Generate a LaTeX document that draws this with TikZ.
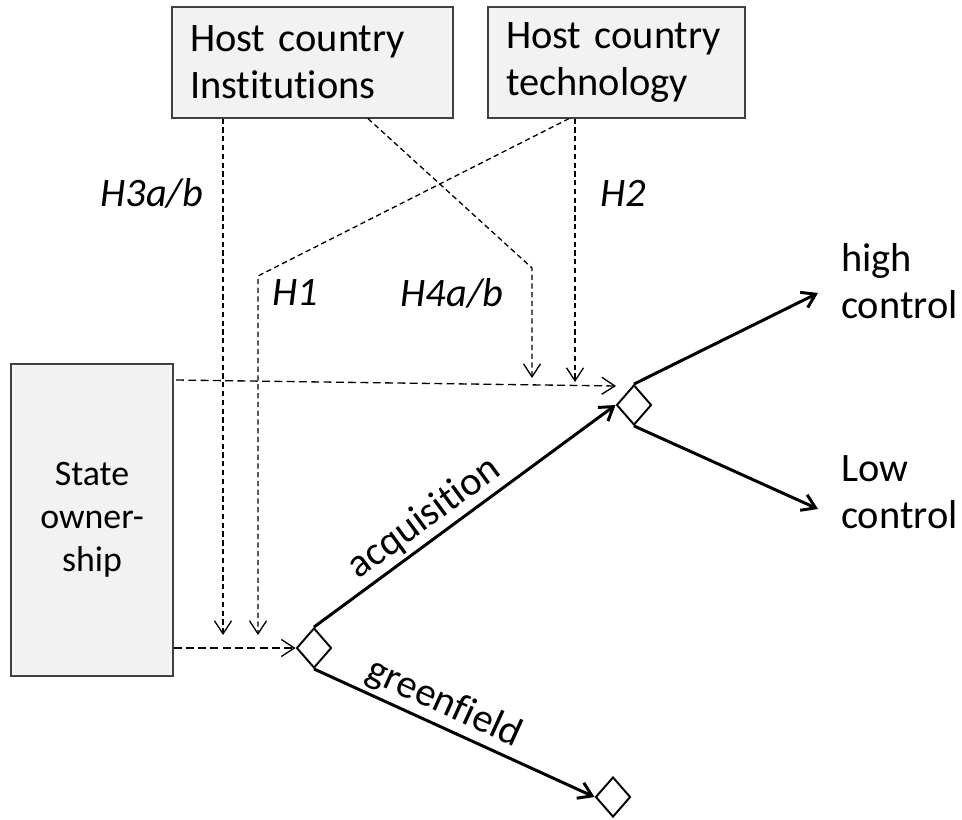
\documentclass[tikz,border=0pt]{standalone}
\usepackage{fontspec}
\setmainfont{Carlito}[Ligatures={NoCommon,NoContextual}]
\usepackage{tikz}
\usetikzlibrary{shapes,arrows.meta,positioning,calc}

\definecolor{boxfill}{HTML}{F2F2F2}
\definecolor{boxline}{HTML}{404040}

\tikzset{
  >={Straight Barb[length=2.6mm,width=3.4mm]},
  factor/.style={rectangle, draw=boxline, fill=boxfill, line width=0.7pt, inner ysep=0pt, inner xsep=0.36cm, minimum height=2.22cm, align=left, font=\fontsize{23}{26.6}\selectfont},
  choice/.style={diamond, draw, line width=1.1pt, minimum width=0.7cm, minimum height=0.8cm, inner sep=0pt},
  effect/.style={->, line width=0.75pt, dash pattern=on 3pt off 2pt},
  direct/.style={->, line width=0.75pt, dash pattern=on 4.5pt off 2.5pt},
  mode/.style={->, line width=1.7pt},
  hyp/.style={font=\fontsize{23}{26.6}\selectfont\itshape},
  outcome/.style={anchor=west, align=left, font=\fontsize{23}{26.6}\selectfont}
}

\begin{document}
\begin{tikzpicture}[x=0.02cm, y=-0.02cm]
\useasboundingbox (0,0) rectangle (962,820);

% Host country factors
\node[factor, text width=4.9cm] (inst) at (312.5,62.5) {Host country\\Institutions};
\node[factor, text width=4.42cm] (tech) at (616.5,62.5) {Host country\\technology};

% State ownership
\node[rectangle, draw=boxline, fill=boxfill, line width=0.7pt, minimum width=3.24cm, minimum height=6.24cm, align=center, font=\fontsize{20.4}{24.4}\selectfont] (state) at (92,520) {State\\owner-\\ship};

% Entry mode choices
\node[choice] (entry) at (314,648) {};
\node[choice] (ctrl) at (634,405) {};
\node[choice] (green) at (613,797) {};

% Free ends
\coordinate (h3tip) at (223,635);
\coordinate (h1bend) at (258,276);
\coordinate (h1tip) at (258,635);
\coordinate (h4bend) at (532,268);
\coordinate (h4tip) at (532,378);
\coordinate (h2tip) at (575,382);
\coordinate (sotop) at (176,380);
\coordinate (sotip) at (616,386);
\coordinate (hightip) at (818,293);
\coordinate (lowtip) at (818,509);

% Hypothesised effects
\draw[effect] (inst.south -| h3tip) -- (h3tip);
\draw[effect] ([xshift=-0.95cm]tech.south) -- (h1bend) -- (h1tip);
\draw[effect] ([xshift=1.11cm]inst.south) -- (h4bend) -- (h4tip);
\draw[effect] (tech.south -| h2tip) -- (h2tip);
\draw[direct] (sotop) -- (sotip);
\draw[direct] (state.east |- entry) -- (entry.west);

% Entry modes
\draw[mode] (entry.north) -- (ctrl.west) node[pos=0.41, above, sloped, inner sep=2pt, font=\fontsize{23}{26.6}\selectfont] {acquisition};
\draw[mode] (entry.south) -- (green.west) node[pos=0.43, above, sloped, inner sep=2pt, font=\fontsize{23}{26.6}\selectfont] {greenfield};
\draw[mode] (ctrl.north) -- (hightip);
\draw[mode] (ctrl.south) -- (lowtip);

% Labels
\node[hyp] (h3) at (152,193) {H3a/b};
\node[hyp] (h2) at (623,193) {H2};
\node[hyp] (h1) at (295,293) {H1};
\node[hyp] (h4) at (452,293) {H4a/b};
\node[outcome] (high) at (835,281) {high\\control};
\node[outcome] (low) at (835,492) {Low\\control};
\end{tikzpicture}
\end{document}
